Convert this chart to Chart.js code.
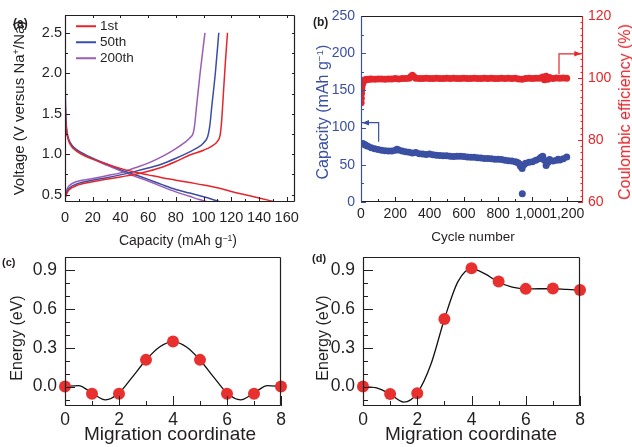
<!DOCTYPE html>
<html>
<head>
<meta charset="utf-8">
<script src="https://cdn.jsdelivr.net/npm/chart.js@4.4.0/dist/chart.umd.min.js"></script>
<style>
  html, body { margin: 0; padding: 0; background: #fff; }
  body { width: 632px; height: 447px; position: relative; overflow: hidden;
         font-family: "Liberation Sans", Arial, sans-serif; color: #231f20; }
  canvas { position: absolute; }
  .t { position: absolute; white-space: nowrap; line-height: 1; }
  .c { transform: translate(-50%, -50%); }
  .r { transform: translate(-50%, -50%) rotate(-90deg); }
  .b { font-weight: bold; }
  sup { font-size: 0.62em; vertical-align: 0.5em; line-height: 0; }
  .leg { position: absolute; left: 76px; font-size: 13.5px; display: flex; align-items: center;
         transform: translateY(-50%); line-height: 1; }
  .leg i { display: inline-block; width: 20px; height: 2px; margin-right: 4px; }
</style>
</head>
<body>
<canvas id="chartA" width="316" height="225" style="left:0;top:0"></canvas>
<canvas id="chartB" width="316" height="225" style="left:316px;top:0"></canvas>
<canvas id="chartC" width="316" height="222" style="left:0;top:225px"></canvas>
<canvas id="chartD" width="316" height="222" style="left:316px;top:225px"></canvas>

<!-- (a) -->
<div class="t b" style="left:13px;top:17px;font-size:12px">(a)</div>
<div class="t r" style="left:18px;top:108px;font-size:15px">Voltage (V versus Na<sup>+</sup>/Na)</div>
<div class="t c" style="left:178px;top:240px;font-size:14px">Capacity (mAh g<sup>−1</sup>)</div>
<div class="leg" style="top:26px"><i style="background:#e4262b"></i>1st</div>
<div class="leg" style="top:42px"><i style="background:#3b4fa2"></i>50th</div>
<div class="leg" style="top:58px"><i style="background:#9b5cb8"></i>200th</div>

<!-- (b) -->
<div class="t b" style="left:313px;top:16px;font-size:12px">(b)</div>
<div class="t r" style="left:323px;top:112px;font-size:16px;color:#3b4fa2">Capacity (mAh g<sup>−1</sup>)</div>
<div class="t r" style="left:625px;top:112px;font-size:16px;color:#e4262b">Coulombic efficiency (%)</div>
<div class="t c" style="left:473px;top:237px;font-size:13.5px">Cycle number</div>

<!-- (c) -->
<div class="t b" style="left:2px;top:257px;font-size:11px">(c)</div>
<div class="t r" style="left:17px;top:338px;font-size:16px">Energy (eV)</div>
<div class="t c" style="left:170px;top:433px;font-size:19px">Migration coordinate</div>

<!-- (d) -->
<div class="t b" style="left:312px;top:253px;font-size:11px">(d)</div>
<div class="t r" style="left:323px;top:338px;font-size:16px">Energy (eV)</div>
<div class="t c" style="left:471px;top:433px;font-size:19px">Migration coordinate</div>

<script>
// ── (a) charge / discharge profiles ──
const dis1Cap = [0, 0.4, 1, 2, 3.5, 6, 12, 20, 30, 40, 50, 60, 70, 80, 90, 100, 110, 120, 130, 140, 152];
const dis1V = [1.75, 1.45, 1.3, 1.2, 1.13, 1.07, 1.0, 0.94, 0.88, 0.825, 0.78, 0.745, 0.71, 0.68, 0.65, 0.62, 0.585, 0.54, 0.5, 0.46, 0.41];
const chg1Cap = [0, 0.5, 1.5, 3, 8, 20, 30, 40, 50, 60, 70, 80, 90, 100, 106, 110, 112, 113, 114.5, 116, 117.3];
const chg1V = [0.44, 0.48, 0.52, 0.56, 0.61, 0.66, 0.69, 0.72, 0.75, 0.79, 0.84, 0.91, 0.99, 1.05, 1.1, 1.16, 1.24, 1.4, 1.8, 2.2, 2.5];

const dis50Cap = [0, 0.4, 1, 2, 3.5, 6, 12, 20, 30, 40, 50, 60, 70, 80, 90, 100, 106, 112];
const dis50V = [1.9, 1.5, 1.33, 1.22, 1.15, 1.09, 1.02, 0.95, 0.88, 0.81, 0.75, 0.69, 0.625, 0.565, 0.52, 0.475, 0.445, 0.41];
const chg50Cap = [0, 0.5, 1.5, 3, 8, 20, 30, 40, 50, 60, 70, 80, 90, 95, 100, 103, 104.5, 106, 108.5, 111];
const chg50V = [0.45, 0.5, 0.54, 0.58, 0.63, 0.68, 0.71, 0.745, 0.785, 0.83, 0.88, 0.95, 1.03, 1.075, 1.14, 1.22, 1.35, 1.6, 2.0, 2.5];

const dis200Cap = [0, 0.3, 1, 2, 3.5, 6, 12, 20, 30, 40, 50, 60, 70, 80, 90, 97, 103.5];
const dis200V = [2.25, 1.7, 1.35, 1.23, 1.15, 1.09, 1.01, 0.94, 0.865, 0.795, 0.73, 0.67, 0.6, 0.535, 0.48, 0.44, 0.41];
const chg200Cap = [0, 0.5, 1.5, 3, 8, 20, 30, 40, 50, 60, 70, 80, 86, 90, 92.5, 93.5, 95, 97.5, 101];
const chg200V = [0.47, 0.52, 0.57, 0.61, 0.66, 0.7, 0.735, 0.77, 0.83, 0.89, 0.97, 1.07, 1.14, 1.2, 1.26, 1.35, 1.6, 2.0, 2.5];

// ── (b) cycling ──
const cycleTicks = [0, 100, 200, 300, 400, 500, 600, 700, 800, 900, 1000, 1100, 1200];
const capCycles = [0, 10, 20, 30, 40, 60, 80, 100, 120, 140, 160, 180, 200, 210, 220, 240, 260, 280, 300, 320,
  340, 360, 380, 400, 420, 440, 460, 480, 500, 520, 540, 560, 580, 600, 620, 640, 660, 680, 700, 720,
  740, 760, 780, 800, 820, 840, 860, 880, 900, 910, 920, 930, 940, 950, 960, 980, 1000, 1020, 1040, 1050,
  1060, 1070, 1080, 1090, 1100, 1120, 1140, 1150, 1160, 1180, 1200, 941];
const capValues = [78, 78.5, 77.5, 76, 75, 73, 71.5, 70.5, 69.5, 69, 68.5, 68.5, 69.5, 71, 70, 68.5, 67.5, 67, 66, 66.5,
  65, 64.5, 64, 64.5, 63.5, 63, 62.5, 62, 62, 61.5, 61, 61.5, 61.5, 61, 60.5, 60, 60, 59.5, 59, 58.5,
  58.5, 58, 57.5, 57.5, 57, 56, 55.5, 55, 54, 53.5, 52, 48, 45, 50, 52, 53.5, 54, 56, 58, 60,
  61.5, 56, 49, 53, 57, 55, 56, 57.5, 56.5, 58, 60.5, 11];
const ceCycles = [1, 2, 3, 4, 5, 7, 10, 13, 16, 20, 25, 30, 40, 50, 60, 80, 100, 120, 140, 160,
  180, 200, 220, 240, 260, 280, 290, 300, 310, 320, 340, 360, 380, 400, 420, 440, 460, 480, 500, 520,
  540, 560, 580, 600, 620, 640, 660, 680, 700, 720, 740, 760, 780, 800, 820, 840, 860, 880, 900, 920,
  940, 960, 980, 1000, 1020, 1040, 1060, 1070, 1080, 1090, 1100, 1120, 1140, 1160, 1180, 1200];
const ceValues = [92.0, 93.5, 95.0, 96.2, 97.0, 97.8, 98.4, 98.8, 99.1, 99.3, 99.4, 99.5, 99.6, 99.6, 99.7, 99.6, 99.7, 99.7, 99.6, 99.7,
  99.7, 99.8, 99.7, 99.8, 99.8, 99.9, 100.4, 100.9, 100.3, 99.9, 99.8, 99.8, 99.9, 99.8, 99.8, 99.9, 99.8, 99.8, 99.9, 99.8,
  99.9, 99.8, 99.8, 99.9, 99.8, 99.8, 99.9, 99.8, 99.8, 99.9, 99.8, 99.9, 99.8, 99.8, 99.9, 99.8, 99.9, 99.8, 99.9, 99.7,
  99.6, 99.8, 99.9, 99.8, 99.9, 99.9, 100.3, 99.4, 100.6, 99.6, 100.2, 99.8, 100.0, 99.9, 100.0, 99.9];
// guide arrows (cycle, value)
const capArrowCycle = [103, 103, 6];
const capArrowValue = [81, 106.6, 106.6];
const ceArrowCycle = [1155, 1155, 1285];
const ceArrowValue = [101.2, 107.8, 107.8];

// ── (c), (d) migration energy profiles ──
const coord = [0, 1, 2, 3, 4, 5, 6, 7, 8];
const energyC = [0, -0.056, -0.056, 0.206, 0.347, 0.206, -0.056, -0.056, 0];
const energyD = [0, -0.058, -0.052, 0.522, 0.913, 0.81, 0.754, 0.756, 0.746];
const fitCoord = [0, 0.5, 1, 1.5, 2, 2.5, 3, 3.5, 4, 4.5, 5, 5.5, 6, 6.5, 7, 7.5, 8];
const fitC = [0, 0.008, -0.05, -0.103, -0.05, 0.075, 0.205, 0.305, 0.347, 0.305, 0.205, 0.075, -0.05, -0.103, -0.05, 0.008, 0];
const fitD = [0, -0.01, -0.058, -0.12, -0.05, 0.17, 0.52, 0.81, 0.91, 0.87, 0.805, 0.768, 0.754, 0.755, 0.755, 0.75, 0.745];

const RED = "#e4262b", BLUE = "#3b4fa2", PURPLE = "#9b5cb8", INK = "#231f20", DOT = "#e8302f";
const FONT = "'Liberation Sans', Arial, sans-serif";
Chart.defaults.font.family = FONT;
Chart.defaults.color = INK;

const xy = (xs, ys) => xs.map((x, i) => ({ x, y: ys[i] }));
const every = (step, fmt) => (v) => Math.abs(v / step - Math.round(v / step)) < 1e-6 ? fmt(v) : "";

// frame + inward tick marks
const frameTicks = {
  id: "frameTicks",
  afterDatasetsDraw(chart, args, o) {
    const { ctx, chartArea: a } = chart;
    ctx.save();
    ctx.lineWidth = 1;
    const seg = (x1, y1, x2, y2, c) => {
      ctx.strokeStyle = c;
      ctx.beginPath(); ctx.moveTo(x1, y1); ctx.lineTo(x2, y2); ctx.stroke();
    };
    (o.marks || []).forEach((m) => {
      const s = chart.scales[m.scale];
      s.ticks.forEach((t) => {
        const p = Math.round(s.getPixelForValue(t.value)) + 0.5;
        const len = t.label === "" ? m.minor : m.major;
        if (!len) return;
        if (m.side === "bottom") seg(p, a.bottom, p, a.bottom - len, m.color);
        if (m.side === "top") seg(p, a.top, p, a.top + len, m.color);
        if (m.side === "left") seg(a.left, p, a.left + len, p, m.color);
        if (m.side === "right") seg(a.right, p, a.right - len, p, m.color);
      });
    });
    const f = o.frame, L = Math.round(a.left) + 0.5, R = Math.round(a.right) - 0.5;
    const T = Math.round(a.top) + 0.5, B = Math.round(a.bottom) - 0.5;
    ctx.lineWidth = 1.2;
    seg(L, T, R, T, f.top);
    seg(L, B, R, B, f.bottom);
    seg(L, T, L, B, f.left);
    seg(R, T, R, B, f.right);
    ctx.restore();
  },
};

// elbow arrows in data space
const arrows = {
  id: "arrows",
  afterDatasetsDraw(chart, args, o) {
    const { ctx } = chart;
    ctx.save();
    o.items.forEach((it) => {
      const xs = chart.scales.x, ys = chart.scales[it.axis];
      const pts = it.xs.map((v, i) => [xs.getPixelForValue(v), ys.getPixelForValue(it.ys[i])]);
      ctx.strokeStyle = it.color; ctx.fillStyle = it.color; ctx.lineWidth = 1.2;
      ctx.beginPath();
      pts.forEach(([x, y], i) => (i ? ctx.lineTo(x, y) : ctx.moveTo(x, y)));
      ctx.stroke();
      const [x1, y1] = pts[pts.length - 2], [x2, y2] = pts[pts.length - 1];
      const ang = Math.atan2(y2 - y1, x2 - x1), l = 7, w = 2.8;
      ctx.beginPath();
      ctx.moveTo(x2, y2);
      ctx.lineTo(x2 - l * Math.cos(ang) + w * Math.sin(ang), y2 - l * Math.sin(ang) - w * Math.cos(ang));
      ctx.lineTo(x2 - l * Math.cos(ang) - w * Math.sin(ang), y2 - l * Math.sin(ang) + w * Math.cos(ang));
      ctx.closePath();
      ctx.fill();
    });
    ctx.restore();
  },
};

const fixW = (w) => (s) => { s.width = w; };
const fixH = (h) => (s) => { s.height = h; };
const noGrid = { display: false, drawTicks: false };
const base = {
  responsive: false, animation: false, devicePixelRatio: 1,
  events: [],
};

// ── (a) ──
function profile(cap, v, color) {
  return { data: xy(cap, v), borderColor: color, borderWidth: 1.5, pointRadius: 0,
           cubicInterpolationMode: "monotone", fill: false };
}
new Chart(document.getElementById("chartA"), {
  type: "line",
  data: { datasets: [
    profile(dis1Cap, dis1V, RED), profile(chg1Cap, chg1V, RED),
    profile(dis50Cap, dis50V, BLUE), profile(chg50Cap, chg50V, BLUE),
    profile(dis200Cap, dis200V, PURPLE), profile(chg200Cap, chg200V, PURPLE),
  ] },
  options: { ...base,
    layout: { padding: { left: 0, right: 21, top: 15, bottom: 0 } },
    plugins: { legend: { display: false }, tooltip: { enabled: false },
      frameTicks: { frame: { top: INK, bottom: INK, left: INK, right: INK }, marks: [
        { scale: "x", side: "bottom", major: 5, minor: 3, color: INK },
        { scale: "x", side: "top", major: 3, minor: 0, color: INK },
        { scale: "y", side: "left", major: 5, minor: 3, color: INK },
        { scale: "y", side: "right", major: 3, minor: 3, color: INK },
      ] } },
    scales: {
      x: { type: "linear", min: 0, max: 166, afterFit: fixH(23), grid: noGrid, border: { display: false },
        ticks: { stepSize: 10, autoSkip: false, includeBounds: false, maxRotation: 0, padding: 7,
          font: { size: 14.5 }, callback: every(20, (v) => String(v)) } },
      y: { min: 0.41, max: 2.72, afterFit: fixW(65), grid: noGrid, border: { display: false },
        ticks: { stepSize: 0.25, autoSkip: false, includeBounds: false, padding: 3,
          font: { size: 14.5 }, callback: every(0.5, (v) => v.toFixed(1)) } },
    },
  },
  plugins: [frameTicks],
});

// ── (b) ──
new Chart(document.getElementById("chartB"), {
  type: "scatter",
  data: { datasets: [
    { data: xy(ceCycles, ceValues), yAxisID: "y1", backgroundColor: RED, borderWidth: 0, pointRadius: 3.5 },
    { data: xy(capCycles, capValues), yAxisID: "y", backgroundColor: BLUE, borderWidth: 0, pointRadius: 3.5 },
  ] },
  options: { ...base,
    layout: { padding: { left: 0, right: 0, top: 16, bottom: 0 } },
    plugins: { legend: { display: false }, tooltip: { enabled: false },
      arrows: { items: [
        { xs: capArrowCycle, ys: capArrowValue, axis: "y", color: BLUE },
        { xs: ceArrowCycle, ys: ceArrowValue, axis: "y1", color: RED },
      ] },
      frameTicks: { frame: { top: INK, bottom: INK, left: BLUE, right: RED }, marks: [
        { scale: "x", side: "bottom", major: 5, minor: 3, color: INK },
        { scale: "y", side: "left", major: 5, minor: 3, color: BLUE },
        { scale: "y1", side: "right", major: 5, minor: 2.5, color: RED },
      ] } },
    scales: {
      x: { type: "linear", min: 0, max: 1295, afterFit: fixH(23), grid: noGrid, border: { display: false },
        afterBuildTicks: (s) => { s.ticks = cycleTicks.map((value) => ({ value })); },
        ticks: { autoSkip: false, maxRotation: 0, padding: 4,
          font: { size: 14 }, callback: every(200, (v) => v.toLocaleString("en-US")) } },
      y: { position: "left", min: 0, max: 250, afterFit: fixW(45), grid: noGrid, border: { display: false },
        ticks: { stepSize: 25, autoSkip: false, includeBounds: false, padding: 6, color: BLUE,
          font: { size: 14 }, callback: every(50, (v) => String(v)) } },
      y1: { position: "right", min: 60, max: 120, afterFit: fixW(49), grid: noGrid, border: { display: false },
        ticks: { stepSize: 2, autoSkip: false, includeBounds: false, padding: 5, color: RED,
          font: { size: 14 }, callback: every(20, (v) => String(v)) } },
    },
  },
  plugins: [frameTicks, arrows],
});

// ── (c), (d) ──
function energyChart(id, values, fit, yWidth, padRight) {
  return new Chart(document.getElementById(id), {
    type: "scatter",
    data: { datasets: [
      { data: xy(coord, values), backgroundColor: DOT, borderWidth: 0, pointRadius: 6, clip: false, order: 0 },
      { data: xy(fitCoord, fit), showLine: true, borderColor: "#111", borderWidth: 1.3, pointRadius: 0,
        cubicInterpolationMode: "monotone", order: 1 },
    ] },
    options: { ...base,
      layout: { padding: { left: 0, right: padRight, top: 32, bottom: 0 } },
      plugins: { legend: { display: false }, tooltip: { enabled: false },
        frameTicks: { frame: { top: INK, bottom: INK, left: INK, right: INK }, marks: [
          { scale: "x", side: "bottom", major: 10, minor: 5, color: INK },
          { scale: "y", side: "left", major: 10, minor: 5, color: INK },
        ] } },
      scales: {
        x: { type: "linear", min: 0, max: 8, afterFit: fixH(41), grid: noGrid, border: { display: false },
          ticks: { stepSize: 1, autoSkip: false, includeBounds: false, maxRotation: 0, padding: 4,
            font: { size: 17.5 }, callback: every(2, (v) => String(v)) } },
        y: { min: -0.15, max: 1.0, afterFit: fixW(yWidth), grid: noGrid, border: { display: false },
          ticks: { stepSize: 0.1, autoSkip: false, includeBounds: false, padding: 8,
            font: { size: 17.5 }, callback: (v) => (v > -0.01 && v < 0.95 && every(0.3, () => 1)(v)) ? v.toFixed(1) : "" } },
      },
    },
    plugins: [frameTicks],
  });
}
energyChart("chartC", energyC, fitC, 65, 35);
energyChart("chartD", energyD, fitD, 47, 52);
</script>
</body>
</html>
